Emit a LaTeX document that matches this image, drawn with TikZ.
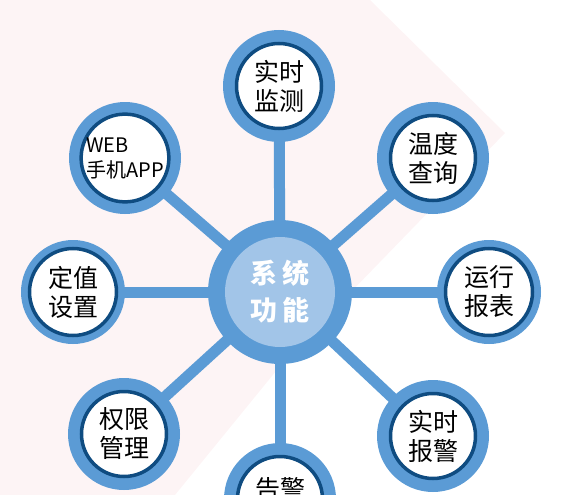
\documentclass[tikz,border=0pt]{standalone}
\usepackage{fontspec}
\setmainfont{Noto Sans CJK SC}
\usepackage{tikz}
\usetikzlibrary{backgrounds}
\definecolor{ringblue}{HTML}{5B9BD5}
\definecolor{darkring}{HTML}{0F4C81}
\definecolor{hubblue}{HTML}{A2C5E8}
\definecolor{bgpink}{HTML}{FDF4F5}

\begin{document}
\begin{tikzpicture}[x=1pt,y=-1pt]
        \tikzstyle{every node} = [circle, inner sep=0pt]
        \tikzstyle{ring} = [fill=ringblue, minimum size=112pt]
        \tikzstyle{thinring} = [fill=ringblue, minimum size=104pt]
        \tikzstyle{face} = [fill=white, draw=darkring, line width=3.5pt, minimum size=85pt,
            align=center, text=black, font=\fontsize{25}{29}\selectfont]
        \tikzstyle{spoke} = [draw=ringblue, line width=11pt]
        \useasboundingbox (0,0) rectangle (565,495);
        % hub
        \node[fill=ringblue, minimum size=144pt] (hub) at (280,292) {};
        \node[fill=hubblue, minimum size=110pt, align=center, text=white,
            font=\fontsize{27}{37}\selectfont\bfseries] (hubf) at (hub) {系\hspace{5pt}统\\功\hspace{5pt}能};
        % outer nodes
        \node[ring] (jc) at (279,86) {};
        \node[face] (jcf) at (jc) {实时\\监测};
        \node[ring] (wd) at (433,158) {};
        \node[face] (wdf) at (wd) {温度\\查询};
        \node[thinring] (yx) at (489,292) {};
        \node[face, minimum size=87pt] (yxf) at (yx) {运行\\报表};
        \node[ring] (bj) at (433,436) {};
        \node[face] (bjf) at (bj) {实时\\报警};
        \node[ring] (gj) at (280,499) {};
        \node[face] (gjf) at (gj) {};
        \node[rectangle, anchor=south, text=black, font=\fontsize{25}{29}\selectfont] (gjt) at ([yshift=-2pt]gj.center) {告警};
        \node[ring] (qx) at (124,434) {};
        \node[face] (qxf) at (qx) {权限\\管理};
        \node[thinring] (dz) at (73,292) {};
        \node[face, minimum size=87pt] (dzf) at (dz) {定值\\设置};
        \node[ring] (web) at (125,158) {};
        \node[face, align=left, font=\fontsize{20}{25}\selectfont] (webf) at (web) {WEB\\手机APP};
        \begin{scope}[on background layer]
            \fill[bgpink] (0,0) -- (370,0) -- (505,133) -- (285,360) -- (175,495) -- (0,495) -- cycle;
            \foreach \to in {jc, wd, yx, bj, gj, qx, dz, web}
                \draw[spoke] (hub.center) -- (\to.center);
        \end{scope}
    \end{tikzpicture}
\end{document}
